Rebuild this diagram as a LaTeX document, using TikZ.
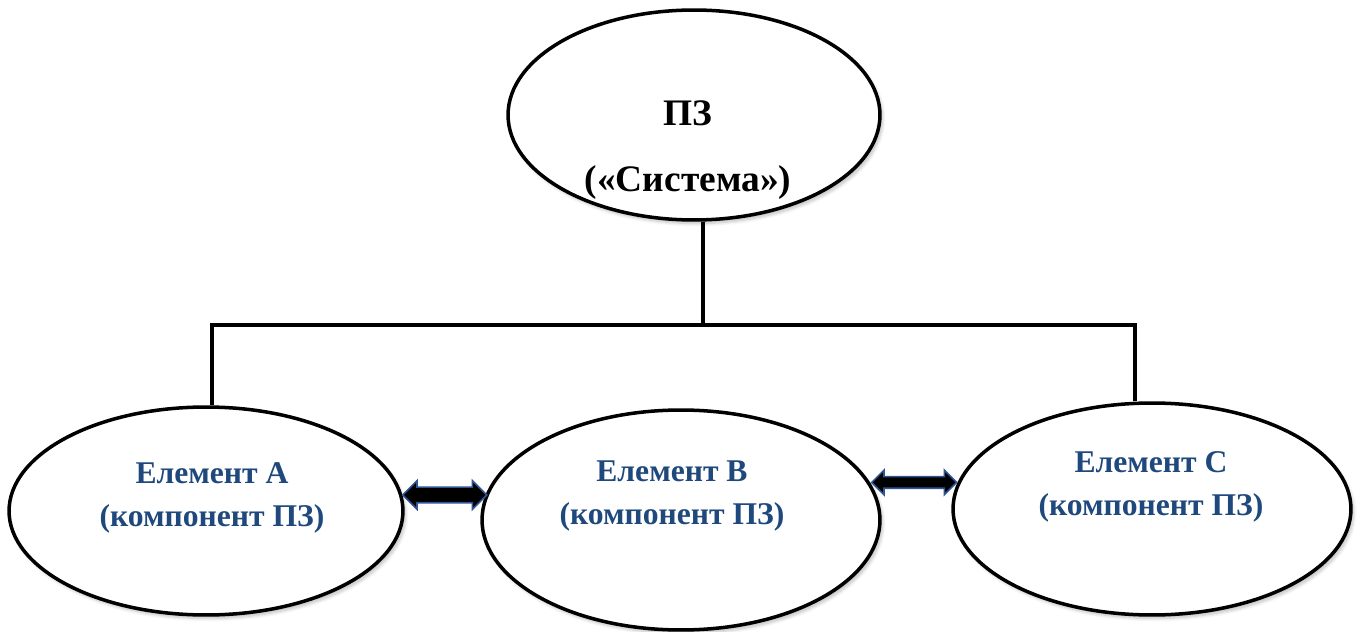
\documentclass[tikz,border=0pt]{standalone}
\usepackage{fontspec}
\setmainfont{Liberation Serif}
\usetikzlibrary{shapes.geometric,shapes.arrows,shadows.blur}
\definecolor{elemblue}{RGB}{31,73,125}
\definecolor{arrowblue}{RGB}{47,85,151}
\tikzset{
  oval/.style={ellipse, draw, line width=2pt, fill=white, inner sep=0pt,
    blur shadow={shadow xshift=1.5pt, shadow yshift=-2pt, shadow opacity=25, shadow blur steps=6}},
  link/.style={line width=1.9pt},
  systext/.style={font=\bfseries\fontsize{21.3}{37.4}\selectfont, align=center},
  elemtext/.style={font=\bfseries\fontsize{18}{24.8}\selectfont, text=elemblue, align=center},
  dblarrow/.style={double arrow, draw=arrowblue, fill=black, line width=0.9pt,
    inner sep=0pt, inner ysep=#1, double arrow head extend=0.13cm}
}
\begin{document}
\begin{tikzpicture}[x=0.02cm, y=-0.02cm]
  \useasboundingbox (0, 0) rectangle (1357, 632) ;
  \node[oval, minimum width=7.44cm, minimum height=4.2cm] (sys) at (694, 115) {} ;
  \node[oval, minimum width=7.88cm, minimum height=4.16cm] (A) at (206, 511) {} ;
  \node[oval, minimum width=7.96cm, minimum height=4.4cm] (B) at (681, 520) {} ;
  \node[oval, minimum width=7.96cm, minimum height=4.24cm] (C) at (1152, 509) {} ;
  \node[systext] (tsys) at (688, 150) {ПЗ\\(«Система»)} ;
  \node[elemtext] (tA) at (212, 498) {Елемент А\\(компонент ПЗ)} ;
  \node[elemtext] (tB) at (672, 496) {Елемент В\\(компонент ПЗ)} ;
  \node[elemtext] (tC) at (1151, 487) {Елемент С\\(компонент ПЗ)} ;
  \coordinate (bus) at (703, 325) ;
  \coordinate (busL) at (212, 325) ;
  \coordinate (busR) at (1135, 325) ;
  \draw[link] (sys.south -| bus) -- (bus) ;
  \draw[link] (A.north -| busL) -- (busL) -- (busR) -- (C.north -| busR) ;
  \path (A.4.7) -- (B.172.7) node[midway, dblarrow=0.14cm, minimum height=1.68cm] (AB) {} ;
  \path (B.11.4) -- (C.172.1) node[midway, dblarrow=0.1cm, minimum height=1.7cm] (BC) {} ;
\end{tikzpicture}
\end{document}
